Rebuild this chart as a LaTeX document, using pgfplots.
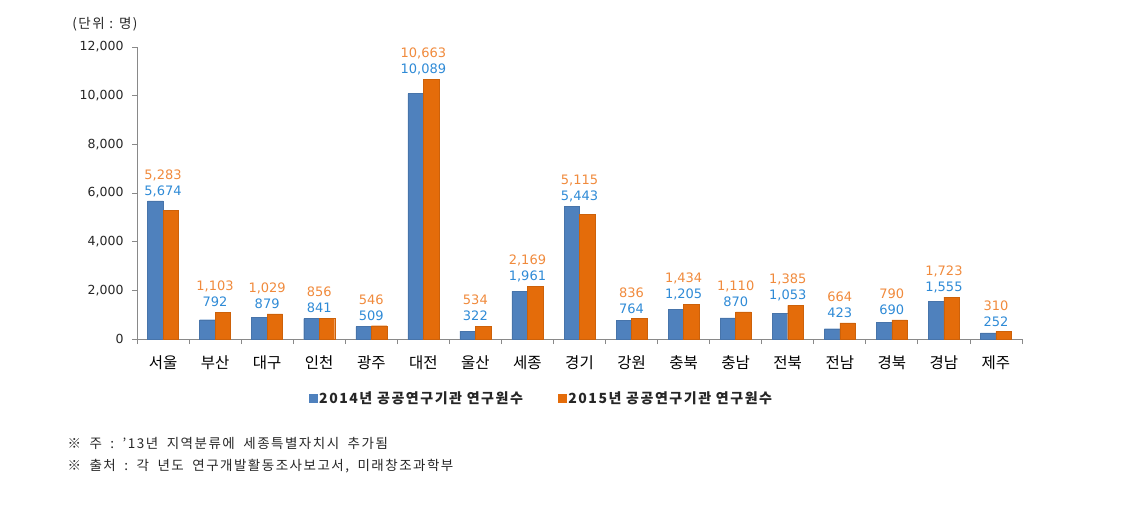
\documentclass[border=0pt]{standalone}
\usepackage{pgfplots}
\usepackage{pgfplotstable}
\pgfplotsset{compat=1.18}
\usepackage{fontspec}
\setmainfont{Noto Sans CJK KR}
\newfontfamily\numfont{DejaVu Sans}
\newfontfamily\spaced[LetterSpace=11]{Noto Sans CJK KR}
\newcommand\gap{\hspace{8.5pt}}

\definecolor{bluebar}{HTML}{4F81BD}
\definecolor{orangebar}{HTML}{E46C0A}
\definecolor{bluelab}{HTML}{2E8AD6}
\definecolor{orangelab}{HTML}{F08A3C}
\definecolor{axisgray}{HTML}{898989}
\definecolor{txt}{HTML}{262626}

% x a=2014 b=2015
\pgfplotstableread{
x a b
0 5674 5283
1 792 1103
2 879 1029
3 841 856
4 509 546
5 10089 10663
6 322 534
7 1961 2169
8 5443 5115
9 764 836
10 1205 1434
11 870 1110
12 1053 1385
13 423 664
14 690 790
15 1555 1723
16 252 310
}\data

\begin{document}
\begin{tikzpicture}
\begin{axis}[
    at={(137pt,-339pt)}, anchor=south west,
    scale only axis,
    width=885pt,
    height=292pt,
    xmin=-0.5, xmax=16.5,
    ymin=0, ymax=12000,
    axis x line*=bottom,
    axis y line*=left,
    axis line style={axisgray, line width=1pt, -},
    tick align=outside,
    tick style={axisgray, line width=0.8pt},
    major tick length=5pt,
    ytick={0,2000,...,12000},
    scaled y ticks=false,
    /pgf/number format/assume math mode=true,
    yticklabel style={font=\numfont\fontsize{12.5}{14}\selectfont, text=txt, xshift=-5pt},
    xtick={-0.5,0.5,...,16.5},
    xticklabels={},
    extra x ticks={0,...,16},
    extra x tick labels={서울,부산,대구,인천,광주,대전,울산,세종,경기,강원,충북,충남,전북,전남,경북,경남,제주},
    extra x tick style={major tick length=0pt,
        tick label style={font=\fontsize{15.5}{17}\selectfont, text=black, anchor=center, yshift=-24pt}},
    legend columns=2,
    legend style={draw=none, at={(0.457,-0.202)}, anchor=center,
        font=\spaced\fontsize{14}{15}\selectfont\bfseries, text=txt,
        /tikz/every even column/.append style={column sep=33pt}},
    clip=false,
]
\addlegendimage{legend image code/.code={\fill[bluebar] (0pt,-4pt) rectangle (8pt,4pt);}}
\addlegendentry{2014년 공공연구기관 연구원수}
\addlegendimage{legend image code/.code={\fill[orangebar] (0pt,-4pt) rectangle (8pt,4pt);}}
\addlegendentry{2015년 공공연구기관 연구원수}

\addplot[forget plot, ybar, bar width=15.5pt, bar shift=-7.75pt, fill=bluebar, draw=bluebar!90!black, line width=0.4pt]
    table[x=x, y=a] {\data};
\addplot[forget plot, ybar, bar width=15.5pt, bar shift=7.75pt, fill=orangebar, draw=orangebar!90!black, line width=0.4pt]
    table[x=x, y=b] {\data};

\addplot[forget plot, draw=none, mark=none, nodes near coords, point meta=explicit,
    nodes near coords style={font=\numfont\fontsize{13}{14}\selectfont, text=bluelab, anchor=center, yshift=10pt, inner sep=0pt}]
    table[x=x, y expr={max(\thisrow{a},\thisrow{b})}, meta=a] {\data};
\addplot[forget plot, draw=none, mark=none, nodes near coords, point meta=explicit,
    nodes near coords style={font=\numfont\fontsize{13}{14}\selectfont, text=orangelab, anchor=center, yshift=26pt, inner sep=0pt}]
    table[x=x, y expr={max(\thisrow{a},\thisrow{b})}, meta=b] {\data};
\end{axis}

\node[font=\spaced\fontsize{13.5}{15}\selectfont, text=txt] at (105pt,-24pt) {(단위 : 명)};
\node[font=\spaced\fontsize{13.5}{16}\selectfont, text=txt, anchor=west] at (64pt,-443pt) {※\gap 주\gap :\gap ’13년\gap 지역분류에\gap 세종특별자치시\gap 추가됨};
\node[font=\spaced\fontsize{13.5}{16}\selectfont, text=txt, anchor=west] at (64pt,-466pt) {※\gap 출처\gap :\gap 각\gap 년도\gap 연구개발활동조사보고서,\gap 미래창조과학부};

\pgfresetboundingbox
\path[use as bounding box] (0,0) rectangle (1121pt,-517pt);
\end{tikzpicture}
\end{document}
